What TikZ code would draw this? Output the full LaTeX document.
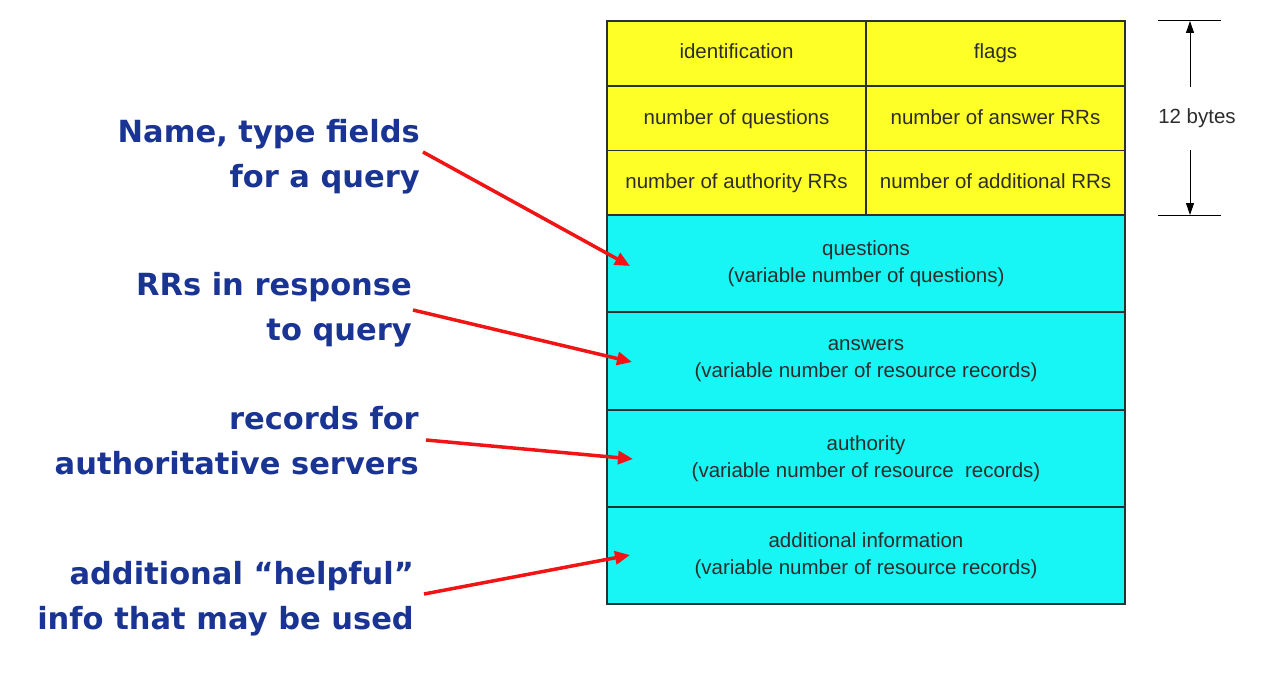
\documentclass[tikz,border=0pt]{standalone}
\usepackage{fontspec}
\setmainfont{Liberation Sans}
\newfontfamily\labfont{DejaVu Sans}
\usetikzlibrary{arrows.meta}
\definecolor{hdr}{RGB}{255,255,40}
\definecolor{body}{RGB}{24,245,245}
\definecolor{edge}{RGB}{40,50,50}
\definecolor{txt}{RGB}{45,45,45}
\definecolor{lab}{RGB}{26,52,148}
\definecolor{arr}{RGB}{240,20,20}
\tikzset{
  cell/.style={draw=edge, line width=1.3pt, inner sep=0pt, text=txt, font=\fontsize{20.5}{27}\selectfont, align=center},
  hcell/.style={cell, fill=hdr, minimum width=259pt, minimum height=65pt, text height=15pt, text depth=4pt},
  bcell/.style={cell, fill=body, minimum width=518pt, minimum height=97pt},
  note/.style={anchor=east, align=right, text=lab, font=\labfont\bfseries\fontsize{30.5}{45}\selectfont, inner sep=0pt},
  pointer/.style={draw=arr, line width=3.5pt, -{Triangle[length=15pt,width=13pt]}},
  dim/.style={draw=black, line width=1pt},
  dimarrow/.style={dim, -{Triangle[length=12pt,width=8pt]}}
}
\begin{document}
\begin{tikzpicture}[x=1pt,y=-1pt]
\useasboundingbox (0,0) rectangle (1269,677);
% header cells
\node[hcell] (id) at (736.5,53.5) {identification};
\node[hcell] (fl) at (995.5,53.5) {flags};
\node[hcell] (nq) at (736.5,118.5) {number of questions};
\node[hcell] (na) at (995.5,118.5) {number of answer RRs};
\node[hcell] (nau) at (736.5,183) {number of authority RRs};
\node[hcell] (nad) at (995.5,183) {number of additional RRs};
% body cells
\node[bcell] (q) at (866,263.5) {questions\\(variable number of questions)};
\node[bcell] (an) at (866,361) {answers\\(variable number of resource records)};
\node[bcell] (au) at (866,458.5) {authority\\(variable number of resource\ \ records)};
\node[bcell] (ad) at (866,555.5) {additional information\\(variable number of resource records)};
% 12 bytes dimension
\coordinate (t1) at (1158,21);
\coordinate (t2) at (1221,21);
\coordinate (b1) at (1158,215);
\coordinate (b2) at (1221,215);
\draw[dim] (t1) -- (t2);
\draw[dim] (b1) -- (b2);
\node[font=\fontsize{20.5}{24}\selectfont, text=txt] (tw) at (1197,118) {12 bytes};
\coordinate (up0) at (1190,87);
\coordinate (up1) at (1190,21);
\coordinate (dn0) at (1190,150);
\coordinate (dn1) at (1190,215);
\draw[dimarrow] (up0) -- (up1);
\draw[dimarrow] (dn0) -- (dn1);
% notes
\node[note] (n1) at (420,157) {Name, type fields\\for a query};
\node[note] (n2) at (412,310) {RRs in response\\to query};
\node[note] (n3) at (419,441) {records for\\authoritative servers};
\node[note] (n4) at (414,599) {additional “helpful”\\info that may be used};
% pointers
\coordinate (s1) at (423,152);
\coordinate (e1) at (630,266);
\coordinate (s2) at (413,310);
\coordinate (e2) at (632,362);
\coordinate (s3) at (426,440);
\coordinate (e3) at (633,459);
\coordinate (s4) at (424,594);
\coordinate (e4) at (630,555);
\draw[pointer] (s1) -- (e1);
\draw[pointer] (s2) -- (e2);
\draw[pointer] (s3) -- (e3);
\draw[pointer] (s4) -- (e4);
\end{tikzpicture}
\end{document}
